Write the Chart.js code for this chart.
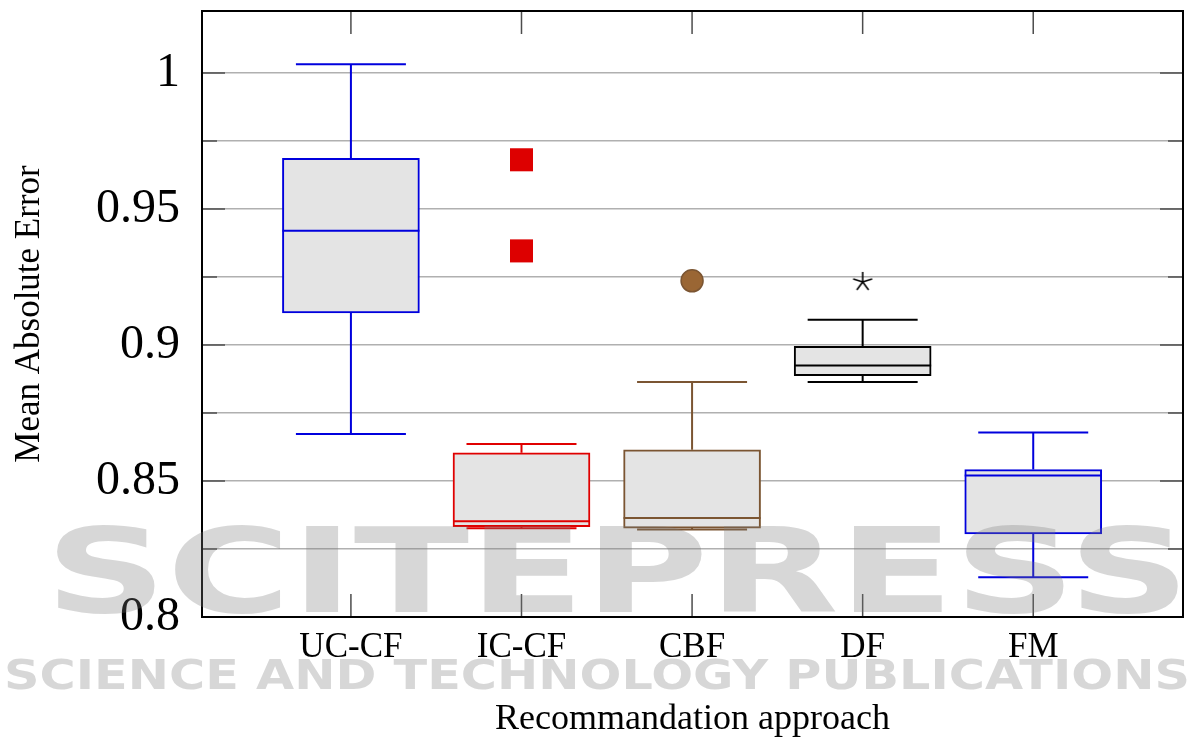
<!DOCTYPE html>
<html>
<head>
<meta charset="utf-8">
<script src="https://cdn.jsdelivr.net/npm/chart.js@4/dist/chart.umd.min.js"></script>
<style>
  html, body { margin: 0; padding: 0; background: #ffffff; }
  canvas { display: block; }
</style>
</head>
<body>
<canvas id="c" width="1192" height="742"></canvas>
<script>
// ---- data ----
const categories   = ['UC-CF', 'IC-CF', 'CBF', 'DF', 'FM'];
const whiskerLow   = [0.8673, 0.8326, 0.8322, 0.8864, 0.8146];
const q1           = [0.9118, 0.8332, 0.8327, 0.8887, 0.8305];
const median       = [0.9420, 0.8352, 0.8364, 0.8925, 0.8520];
const q3           = [0.9686, 0.8604, 0.8615, 0.8995, 0.8542];
const whiskerHigh  = [1.0032, 0.8636, 0.8864, 0.9093, 0.8678];
const outliersICCF = [0.9681, 0.9346];
const outliersCBF  = [0.9236];
const outliersDF   = [0.9232];
const yTicks       = [0.8, 0.825, 0.85, 0.875, 0.9, 0.925, 0.95, 0.975, 1.0];
const yTickLabels  = ['0.8', '', '0.85', '', '0.9', '', '0.95', '', '1'];

// ---- styles ----
const lineColors = ['#0000dd', '#e00000', '#7b5532', '#000000', '#0000dd'];
const boxFill = '#e4e4e4';
const SERIF = '"Liberation Serif", "Times New Roman", serif';
const CAP_W = 110;
const BOX_W = 137;

function makeStar() {
  const c = document.createElement('canvas');
  c.width = 24; c.height = 24;
  const g = c.getContext('2d');
  g.strokeStyle = '#000';
  g.lineWidth = 1.6;
  g.beginPath();
  for (let k = 0; k < 5; k++) {
    const a = -Math.PI / 2 + k * 2 * Math.PI / 5;
    g.moveTo(12, 12);
    g.lineTo(12 + 10 * Math.cos(a), 12 + 10 * Math.sin(a));
  }
  g.stroke();
  return c;
}

const tickMarks = {
  id: 'tickMarks',
  beforeDatasetsDraw(chart) {
    const { ctx, chartArea: ca, scales: { x, y } } = chart;
    ctx.save();
    ctx.strokeStyle = '#4d4d4d';
    ctx.lineWidth = 1.5;
    ctx.beginPath();
    yTicks.forEach((v, i) => {
      const py = y.getPixelForValue(v);
      const len = yTickLabels[i] ? 23 : 15;
      ctx.moveTo(ca.left, py); ctx.lineTo(ca.left + len, py);
      ctx.moveTo(ca.right, py); ctx.lineTo(ca.right - len, py);
    });
    categories.forEach((c, i) => {
      const px = x.getPixelForValue(i + 1);
      ctx.moveTo(px, ca.bottom); ctx.lineTo(px, ca.bottom - 23);
      ctx.moveTo(px, ca.top); ctx.lineTo(px, ca.top + 23);
    });
    ctx.stroke();
    ctx.restore();
  }
};

const whiskers = {
  id: 'whiskers',
  afterDatasetsDraw(chart) {
    const { ctx, scales: { x, y } } = chart;
    ctx.save();
    ctx.lineWidth = 2;
    categories.forEach((c, i) => {
      const cx = x.getPixelForValue(i + 1);
      const yq1 = y.getPixelForValue(q1[i]);
      const yq3 = y.getPixelForValue(q3[i]);
      const ylo = y.getPixelForValue(whiskerLow[i]);
      const yhi = y.getPixelForValue(whiskerHigh[i]);
      const ymd = y.getPixelForValue(median[i]);
      ctx.strokeStyle = lineColors[i];
      ctx.beginPath();
      ctx.moveTo(cx, yq3); ctx.lineTo(cx, yhi);
      ctx.moveTo(cx - CAP_W / 2, yhi); ctx.lineTo(cx + CAP_W / 2, yhi);
      ctx.moveTo(cx, yq1); ctx.lineTo(cx, ylo);
      ctx.moveTo(cx - CAP_W / 2, ylo); ctx.lineTo(cx + CAP_W / 2, ylo);
      ctx.moveTo(cx - BOX_W / 2, ymd); ctx.lineTo(cx + BOX_W / 2, ymd);
      ctx.stroke();
    });
    ctx.restore();
  }
};

const frameAndMark = {
  id: 'frameAndMark',
  afterDraw(chart) {
    const { ctx, chartArea: ca } = chart;
    ctx.save();
    ctx.strokeStyle = '#000';
    ctx.lineWidth = 2;
    ctx.strokeRect(ca.left, ca.top, ca.right - ca.left, ca.bottom - ca.top);
    // publisher watermark (semi-transparent overlay)
    ctx.globalAlpha = 0.3;
    ctx.fillStyle = '#7a7a7a';
    ctx.textBaseline = 'alphabetic';
    ctx.font = 'bold 117px "DejaVu Sans"';
    let t = 'SCITEPRESS';
    let w = ctx.measureText(t).width;
    ctx.save();
    ctx.translate(45, 612);
    ctx.scale(1145 / w, 1);
    ctx.fillText(t, 0, 0);
    ctx.restore();
    ctx.font = 'bold 41px "DejaVu Sans"';
    t = 'SCIENCE AND TECHNOLOGY PUBLICATIONS';
    w = ctx.measureText(t).width;
    ctx.save();
    ctx.translate(4, 689);
    ctx.scale(1186 / w, 1);
    ctx.fillText(t, 0, 0);
    ctx.restore();
    ctx.restore();
  }
};

const starImg = makeStar();

new Chart(document.getElementById('c'), {
  type: 'bar',
  data: {
    datasets: [
      {
        type: 'bar',
        data: categories.map((c, i) => ({ x: i + 1, y: [q1[i], q3[i]] })),
        backgroundColor: boxFill,
        borderColor: lineColors,
        borderWidth: 2,
        borderSkipped: false,
        barThickness: BOX_W
      },
      {
        type: 'scatter',
        data: outliersICCF.map(v => ({ x: 2, y: v })),
        pointStyle: 'rect',
        pointRadius: 16.3,
        pointBackgroundColor: '#dd0000',
        pointBorderColor: '#dd0000',
        pointBorderWidth: 0
      },
      {
        type: 'scatter',
        data: outliersCBF.map(v => ({ x: 3, y: v })),
        pointStyle: 'circle',
        pointRadius: 11,
        pointBackgroundColor: '#9a6634',
        pointBorderColor: '#7b5532',
        pointBorderWidth: 1.5
      },
      {
        type: 'scatter',
        data: outliersCBF.map(v => ({ x: 3, y: v })),
        pointStyle: 'crossRot',
        pointRadius: 10.5,
        pointBackgroundColor: 'rgba(0,0,0,0)',
        pointBorderColor: '#5a3a1e',
        pointBorderWidth: 1.6
      },
      {
        type: 'scatter',
        data: outliersDF.map(v => ({ x: 4, y: v })),
        pointStyle: starImg,
        pointRadius: 10
      }
    ]
  },
  options: {
    responsive: false,
    devicePixelRatio: 1,
    animation: false,
    events: [],
    layout: { autoPadding: false, padding: { top: 11, right: 9, bottom: 0, left: 0 } },
    plugins: { legend: { display: false }, tooltip: { enabled: false } },
    scales: {
      x: {
        type: 'linear',
        min: 0.127,
        max: 5.878,
        offset: false,
        grid: { display: false, drawTicks: false },
        border: { display: false },
        afterBuildTicks: s => { s.ticks = categories.map((c, i) => ({ value: i + 1 })); },
        afterFit: s => { s.height = 125; s.paddingLeft = 0; s.paddingRight = 0; },
        ticks: {
          autoSkip: false,
          maxRotation: 0,
          padding: 10,
          color: '#000',
          font: { family: SERIF, size: 35 },
          callback: (v, i) => categories[i]
        },
        title: {
          display: true,
          text: 'Recommandation approach',
          color: '#000',
          font: { family: SERIF, size: 36 },
          padding: { top: 0, bottom: 1 }
        }
      },
      y: {
        type: 'linear',
        min: 0.8,
        max: 1.0228,
        grid: { color: '#b0b0b0', lineWidth: 1.6, drawTicks: false },
        border: { display: false },
        afterBuildTicks: s => { s.ticks = yTicks.map(v => ({ value: v })); },
        afterFit: s => { s.width = 202; s.paddingTop = 0; s.paddingBottom = 0; },
        ticks: {
          autoSkip: false,
          padding: 22,
          color: '#000',
          font: { family: SERIF, size: 48 },
          callback: (v, i) => yTickLabels[i]
        },
        title: {
          display: true,
          text: 'Mean Absolute Error',
          color: '#000',
          font: { family: SERIF, size: 35 },
          padding: { top: 9, bottom: 0 }
        }
      }
    }
  },
  plugins: [tickMarks, whiskers, frameAndMark]
});
</script>
</body>
</html>
